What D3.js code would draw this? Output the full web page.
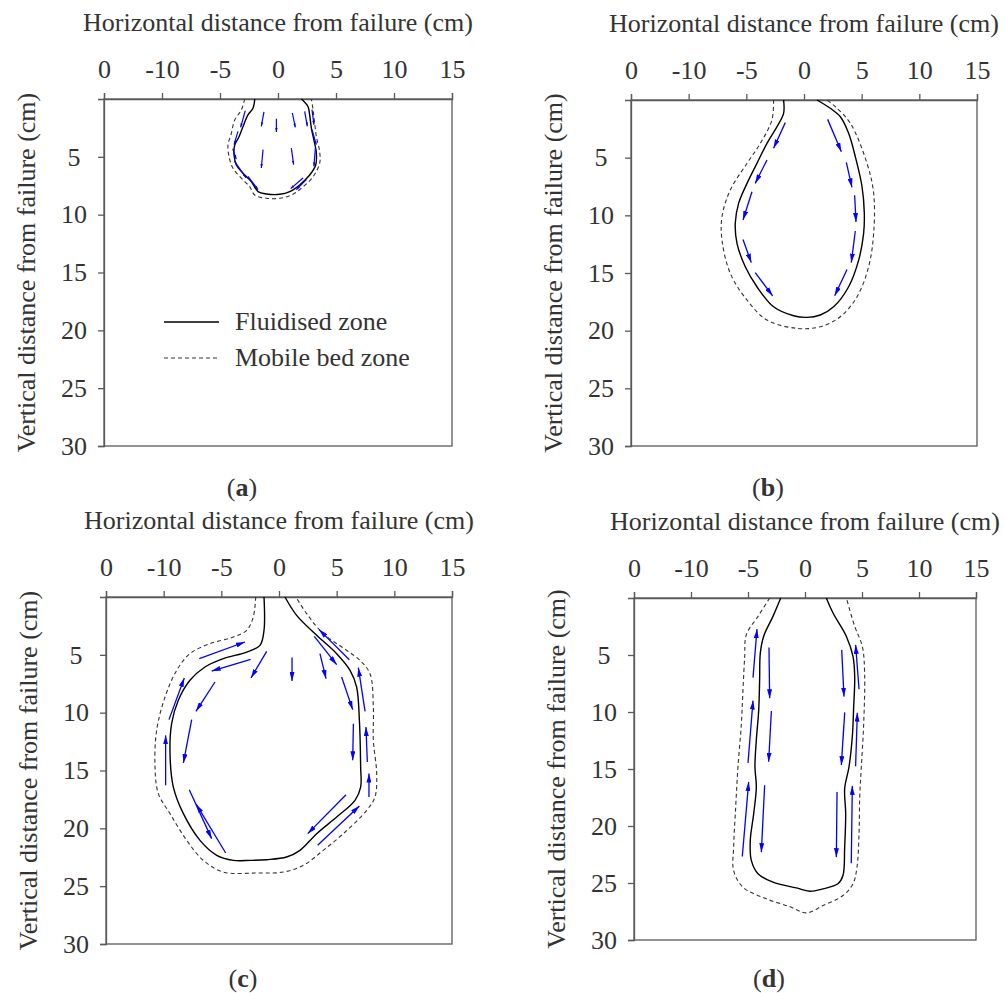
<!DOCTYPE html>
<html>
<head>
<meta charset="utf-8">
<script src="https://cdn.jsdelivr.net/npm/d3@7"></script>
<style>
body{margin:0;background:#fff;}
svg text{font-family:"Liberation Serif","Times New Roman",serif;fill:#333;}
</style>
</head>
<body>
<svg id="chart" width="1005" height="993"></svg>
<script>
// axis ticks (cm); the first label reads "0" in the original figure
var xTickValues = [-15, -10, -5, 0, 5, 10, 15];
var xTickLabels = ['0', '-10', '-5', '0', '5', '10', '15'];
var yTickValues = [5, 10, 15, 20, 25, 30];
var panelNames = ['a', 'b', 'c', 'd'];
var legendLabels = ['Fluidised zone', 'Mobile bed zone'];

// contours as [horizontal cm, depth cm]
var fluidA = [[-2.0,0],[-2.16,0.8],[-2.59,1.38],[-3.02,2.39],[-3.36,3.26],[-3.73,3.98],[-3.79,4.84],[-3.59,5.7],[-3.02,6.42],[-2.29,7.15],[-1.72,8.01],[-1.0,8.21],[0.15,8.24],[1.01,8.01],[1.87,7.43],[2.73,6.57],[3.25,5.7],[3.31,4.69],[3.16,3.83],[2.88,2.53],[2.73,1.38],[2.59,0.67],[2.02,0]];
var mobileA = [[-2.87,0],[-3.16,0.95],[-3.73,1.81],[-4.02,2.96],[-4.31,3.98],[-4.22,4.99],[-3.88,5.99],[-3.16,6.85],[-2.44,7.58],[-2.01,8.3],[-1.0,8.58],[0.15,8.58],[1.16,8.3],[2.02,7.72],[3.02,6.72],[3.59,5.56],[3.59,4.55],[3.31,3.26],[3.16,2.1],[3.02,0.95],[2.88,0]];
var arrowsA = [
	[[-2.82,1.01],[-3.22,2.45]], [[-3.45,2.8],[-3.79,3.95]], [[-1.21,1.12],[-1.44,2.36]],
	[[-0.14,1.7],[-0.14,2.85]], [[1.24,1.21],[1.49,2.45]], [[2.3,1.07],[2.53,2.36]],
	[[2.93,0.92],[3.1,2.22]], [[2.93,2.65],[3.3,3.95]], [[-3.9,4.3],[-3.6,5.2]],
	[[-1.29,4.38],[-1.44,5.97]], [[1.15,4.24],[1.35,5.68]], [[3.22,4.24],[3.1,5.82]],
	[[-3.74,5.39],[-2.74,6.83]], [[-2.59,6.69],[-1.72,7.84]], [[2.16,6.83],[1.09,7.75]],
	[[2.44,6.97],[1.58,7.84]]
];

var fluidB = [[-1.77,0],[-1.77,1.16],[-2.34,2.31],[-3.21,3.76],[-4.08,5.49],[-4.94,7.23],[-5.67,8.96],[-5.96,10.69],[-5.81,12.43],[-5.09,14.46],[-4.08,16.19],[-2.64,17.93],[-0.9,18.71],[0.26,18.85],[1.41,18.64],[2.57,17.93],[3.87,16.19],[4.74,13.88],[5.17,11.56],[5.23,9.83],[5.03,7.5],[4.45,4.92],[3.87,2.89],[3.15,1.45],[2.28,0.72],[1.13,0]];
var mobileB = [[-2.64,0],[-2.78,1.73],[-3.79,3.76],[-4.94,5.49],[-6.39,7.8],[-7.11,10.12],[-7.11,12.14],[-6.39,15.03],[-4.94,17.35],[-3.21,19.08],[-0.61,19.8],[1.41,19.66],[3.15,18.79],[4.6,17.06],[5.6,14.46],[6.04,11.56],[6.04,8.09],[5.46,5.49],[4.02,2.02],[2.71,0.58],[1.99,0]];
var arrowsB = [
	[[-1.62,1.96],[-2.64,4.19]], [[-3.21,5.2],[-4.23,7.23]], [[-4.51,7.95],[-5.29,10.4]],
	[[-5.29,12.09],[-4.57,14.1]], [[-4.23,14.96],[-2.72,16.98]], [[2.05,1.68],[3.24,4.48]],
	[[3.67,5.41],[4.16,7.57]], [[4.39,8.26],[4.51,10.57]], [[4.45,11.36],[4.1,14.1]],
	[[3.73,14.7],[2.66,16.98]]
];

var fluidC = [[-1.3,0],[-1.3,2.88],[-1.65,4.18],[-2.8,4.76],[-4.83,5.33],[-6.42,6.05],[-7.72,7.2],[-8.73,8.93],[-9.31,10.95],[-9.45,13.54],[-9.16,16.43],[-8.29,18.73],[-6.85,21.04],[-5.4,22.33],[-3.96,22.77],[-2.51,22.77],[-1.07,22.71],[0.66,22.48],[1.82,21.9],[3.27,20.46],[5.0,19.02],[6.59,17.58],[7.08,16.43],[7.08,14.7],[6.97,10.66],[6.73,7.78],[6.16,6.34],[5.0,4.9],[3.27,3.31],[1.53,1.59],[0.52,0]];
var mobileC = [[-2.02,0],[-2.23,1.73],[-2.8,2.88],[-3.96,3.46],[-5.98,4.03],[-7.72,4.9],[-8.87,6.34],[-9.88,8.65],[-10.61,11.53],[-10.75,14.7],[-10.46,17.0],[-9.45,18.73],[-8.0,21.04],[-6.56,22.77],[-4.83,23.78],[-1.94,23.86],[0.38,23.78],[2.11,23.2],[3.84,21.9],[5.58,20.46],[7.6,18.44],[8.32,17.29],[8.47,15.27],[8.18,12.39],[8.18,9.51],[7.89,6.63],[7.02,5.48],[5.87,4.61],[3.84,3.17],[2.4,1.44],[1.47,0]];
var arrowsC = [
	[[-6.91,5.33],[-2.95,3.89]], [[-2.46,5.39],[-5.84,6.4]], [[-1.07,4.7],[-2.43,7.0]],
	[[1.13,5.24],[1.13,7.26]], [[-5.55,7.35],[-7.2,9.88]], [[-9.54,10.6],[-8.21,7.0]],
	[[-7.57,10.6],[-8.29,14.35]], [[-9.83,16.28],[-9.83,11.96]], [[-7.78,16.66],[-5.84,20.89]],
	[[-4.62,22.13],[-7.17,17.93]], [[5.81,17.09],[2.49,20.46]], [[3.35,21.47],[6.97,18.07]],
	[[7.8,17.29],[7.8,15.27]], [[7.66,14.27],[7.54,11.24]], [[6.45,10.95],[6.39,14.12]],
	[[7.46,9.88],[6.88,6.11]], [[5.43,6.92],[6.39,9.74]], [[3.55,4.9],[4.08,7.06]],
	[[3.06,3.4],[5.0,5.85]], [[6.1,5.42],[3.47,2.82]]
];

var fluidD = [[-2.13,0],[-2.81,1.61],[-3.63,3.37],[-3.92,4.84],[-3.98,7.18],[-4.06,9.82],[-4.27,12.46],[-4.39,14.81],[-4.27,16.57],[-4.5,18.91],[-4.8,21.26],[-4.71,23.02],[-4.12,24.19],[-2.81,24.93],[-0.76,25.43],[0.41,25.72],[1.58,25.51],[2.89,25.07],[3.33,24.34],[3.48,21.85],[3.57,18.91],[3.48,16.72],[3.86,14.81],[4.15,12.17],[4.27,9.53],[4.36,6.89],[4.21,5.13],[3.63,3.37],[2.46,1.32],[1.87,0]];
var mobileD = [[-3.1,0],[-4.12,1.61],[-5.15,3.23],[-5.29,5.13],[-5.44,8.06],[-5.58,10.99],[-5.88,14.81],[-6.08,18.33],[-6.26,21.85],[-6.26,23.9],[-5.44,25.37],[-3.39,26.39],[-1.35,27.07],[0.12,27.62],[1.58,26.98],[3.33,26.1],[4.21,25.07],[4.56,23.61],[4.74,20.67],[4.8,17.45],[4.94,14.81],[5.15,11.0],[5.23,6.6],[5.03,4.25],[4.36,2.49],[3.63,0]];
var arrowsD = [
	[[-4.56,6.98],[-4.21,2.73]], [[-5.0,14.46],[-4.56,9.0]], [[-5.5,22.67],[-4.94,16.13]],
	[[-3.16,4.34],[-3.1,8.8]], [[-2.95,9.91],[-3.19,14.37]], [[-3.54,16.42],[-3.83,22.29]],
	[[3.22,4.55],[3.42,8.65]], [[3.48,10.03],[3.19,14.66]], [[2.81,17.01],[2.75,22.73]],
	[[4.74,8.01],[4.44,4.11]], [[4.44,14.75],[4.59,10.06]], [[4.06,23.26],[4.15,16.48]]
];

var fluidSets = [fluidA, fluidB, fluidC, fluidD];
var mobileSets = [mobileA, mobileB, mobileC, mobileD];
var arrowSets = [arrowsA, arrowsB, arrowsC, arrowsD];

// page layout of the four plot boxes (pixels)
var layout = [
	{left:104, top:99, w:348, h:347, labelY:496, head:'headSmall'},
	{left:631, top:100, w:346, h:346, labelY:496, head:'head'},
	{left:106, top:597, w:346, h:347, labelY:987, head:'head'},
	{left:634, top:598, w:342, h:342, labelY:987, head:'head'}
];

var axisColor = '#5a5a5a';
var fontSize = '26px';
var svg = d3.select('#chart');
var defs = svg.append('defs');

function addHead(id, len, wid){
	defs.append('marker')
		.attr('id', id)
		.attr('viewBox', '0 0 ' + len + ' ' + wid)
		.attr('refX', len)
		.attr('refY', wid/2)
		.attr('markerWidth', len)
		.attr('markerHeight', wid)
		.attr('markerUnits', 'userSpaceOnUse')
		.attr('orient', 'auto')
		.append('path')
		.attr('d', 'M0,0L' + len + ',' + (wid/2) + 'L0,' + wid + 'Z')
		.attr('fill', '#0000ff');
}
addHead('head', 9, 5);
addHead('headSmall', 4, 2.5);

layout.forEach(function(p, i){
	var x = d3.scaleLinear().domain([-15, 15]).range([p.left, p.left + p.w]);
	var y = d3.scaleLinear().domain([0, 30]).range([p.top, p.top + p.h]);
	var g = svg.append('g').attr('class', 'panel_' + panelNames[i]);

	// frame
	g.append('rect')
		.attr('x', p.left).attr('y', p.top)
		.attr('width', p.w).attr('height', p.h)
		.attr('fill', 'none')
		.attr('stroke', axisColor)
		.attr('stroke-width', 1.3);

	// top axis
	var gx = g.append('g')
		.attr('transform', 'translate(0,' + p.top + ')')
		.call(d3.axisTop(x)
			.tickValues(xTickValues)
			.tickSize(6)
			.tickPadding(15)
			.tickFormat(function(d, k){ return xTickLabels[k]; }));
	// left axis
	var gy = g.append('g')
		.attr('transform', 'translate(' + p.left + ',0)')
		.call(d3.axisLeft(y)
			.tickValues(yTickValues)
			.tickSize(6)
			.tickPadding(24));
	[gx, gy].forEach(function(a){
		a.select('.domain').attr('stroke', axisColor).attr('stroke-width', 1.3);
		a.selectAll('.tick line').attr('stroke', axisColor).attr('stroke-width', 1.3);
		a.selectAll('.tick text')
			.attr('font-size', fontSize)
			.attr('font-family', '"Liberation Serif", serif')
			.attr('fill', '#333');
	});
	gy.selectAll('.tick text').attr('text-anchor', 'middle').attr('x', -30);

	// axis titles
	g.append('text')
		.attr('x', p.left + p.w/2)
		.attr('y', p.top - 68)
		.attr('text-anchor', 'middle')
		.attr('font-size', fontSize)
		.text('Horizontal distance from failure (cm)');
	g.append('text')
		.attr('transform', 'translate(' + (p.left - 69) + ',' + (p.top + p.h/2) + ') rotate(-90)')
		.attr('text-anchor', 'middle')
		.attr('font-size', fontSize)
		.text('Vertical distance from failure (cm)');

	// panel label
	var lab = g.append('text')
		.attr('x', p.left + p.w/2 - 36)
		.attr('y', p.labelY)
		.attr('text-anchor', 'middle')
		.attr('font-size', fontSize);
	lab.append('tspan').text('(');
	lab.append('tspan').attr('font-weight', 'bold').text(panelNames[i]);
	lab.append('tspan').text(')');

	var line = d3.line()
		.x(function(d){ return x(d[0]); })
		.y(function(d){ return y(d[1]); })
		.curve(d3.curveCatmullRom.alpha(0.5));

	// mobile bed zone
	g.append('path')
		.attr('d', line(mobileSets[i]))
		.attr('fill', 'none')
		.attr('stroke', '#333')
		.attr('stroke-width', 1.1)
		.attr('stroke-dasharray', '4,3');
	// fluidised zone
	g.append('path')
		.attr('d', line(fluidSets[i]))
		.attr('fill', 'none')
		.attr('stroke', '#000')
		.attr('stroke-width', 1.4);

	// flow arrows
	g.selectAll('.arrow')
		.data(arrowSets[i])
		.enter()
		.append('line')
		.attr('class', 'arrow')
		.attr('x1', function(d){ return x(d[0][0]); })
		.attr('y1', function(d){ return y(d[0][1]); })
		.attr('x2', function(d){ return x(d[1][0]); })
		.attr('y2', function(d){ return y(d[1][1]); })
		.attr('stroke', '#0000ff')
		.attr('stroke-width', i == 0 ? 1.2 : 1.3)
		.attr('marker-end', 'url(#' + p.head + ')');
});

// legend inside panel (a)
var leg = svg.append('g').attr('transform', 'translate(164,322)');
legendLabels.forEach(function(t, k){
	leg.append('line')
		.attr('x1', 0).attr('x2', 55)
		.attr('y1', k*36).attr('y2', k*36)
		.attr('stroke', k == 0 ? '#000' : '#333')
		.attr('stroke-width', k == 0 ? 1.3 : 1.1)
		.attr('stroke-dasharray', k == 0 ? null : '4,3');
	leg.append('text')
		.attr('x', 71)
		.attr('y', k*36 + 8)
		.attr('font-size', fontSize)
		.text(t);
});
</script>
</body>
</html>
